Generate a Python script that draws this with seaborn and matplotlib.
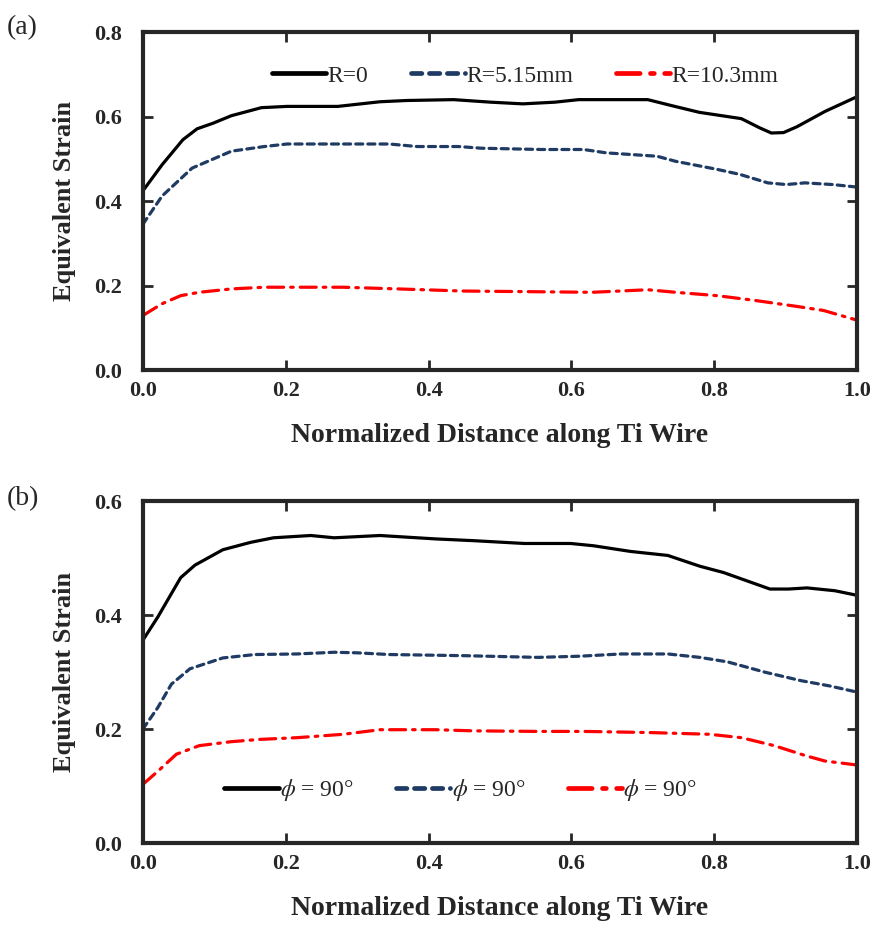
import numpy as np
import pandas as pd
import matplotlib
matplotlib.use("Agg")
import matplotlib.pyplot as plt
import seaborn as sns

# panel (a): strain along the wire for three radii
a_r0_x = [0.0, 0.027, 0.056, 0.076, 0.098, 0.124, 0.166, 0.202, 0.273, 0.332, 0.37, 0.435,
          0.487, 0.532, 0.577, 0.61, 0.707, 0.74, 0.779, 0.838, 0.864, 0.88, 0.897, 0.916,
          0.955, 1.0]
a_r0_y = [0.424, 0.486, 0.545, 0.571, 0.584, 0.602, 0.621, 0.624, 0.624, 0.635, 0.638, 0.64,
          0.634, 0.63, 0.634, 0.64, 0.64, 0.626, 0.61, 0.595, 0.573, 0.561, 0.562, 0.576,
          0.612, 0.647]
a_r5_x = [0.0, 0.027, 0.069, 0.124, 0.17, 0.202, 0.345, 0.384, 0.442, 0.474, 0.558, 0.617,
          0.649, 0.72, 0.746, 0.804, 0.836, 0.875, 0.901, 0.927, 0.966, 1.0]
a_r5_y = [0.345, 0.412, 0.478, 0.518, 0.529, 0.535, 0.535, 0.529, 0.529, 0.525, 0.522, 0.522,
          0.514, 0.506, 0.494, 0.475, 0.463, 0.443, 0.439, 0.443, 0.439, 0.433]
a_r10_x = [0.0, 0.027, 0.053, 0.079, 0.124, 0.17, 0.28, 0.357, 0.448, 0.629, 0.707, 0.746,
           0.804, 0.856, 0.914, 0.953, 1.0]
a_r10_y = [0.129, 0.157, 0.176, 0.184, 0.192, 0.196, 0.196, 0.192, 0.187, 0.184, 0.19, 0.184,
           0.176, 0.165, 0.151, 0.141, 0.118]

# panel (b)
b_s1_x = [0.0, 0.021, 0.053, 0.073, 0.112, 0.151, 0.183, 0.235, 0.268, 0.332, 0.41, 0.462,
          0.534, 0.599, 0.631, 0.683, 0.735, 0.78, 0.813, 0.878, 0.904, 0.93, 0.969, 1.0]
b_s1_y = [0.356, 0.397, 0.466, 0.488, 0.515, 0.528, 0.536, 0.54, 0.536, 0.54, 0.534, 0.531,
          0.526, 0.526, 0.522, 0.512, 0.505, 0.486, 0.475, 0.446, 0.446, 0.448, 0.443, 0.435]
b_s2_x = [0.0, 0.021, 0.04, 0.066, 0.112, 0.157, 0.216, 0.268, 0.3, 0.345, 0.449, 0.553,
          0.611, 0.67, 0.735, 0.78, 0.819, 0.871, 0.922, 0.961, 1.0]
b_s2_y = [0.2, 0.238, 0.279, 0.306, 0.325, 0.331, 0.332, 0.335, 0.334, 0.331, 0.329, 0.326,
          0.328, 0.332, 0.332, 0.326, 0.318, 0.3, 0.285, 0.276, 0.265]
b_s3_x = [0.0, 0.021, 0.047, 0.079, 0.124, 0.164, 0.216, 0.281, 0.332, 0.41, 0.462, 0.553,
          0.618, 0.709, 0.793, 0.838, 0.884, 0.929, 0.955, 1.0]
b_s3_y = [0.103, 0.126, 0.156, 0.171, 0.178, 0.182, 0.185, 0.191, 0.199, 0.199, 0.197, 0.196,
          0.196, 0.194, 0.191, 0.185, 0.171, 0.153, 0.144, 0.137]

a_labels = ["R=0", "R=5.15mm", "R=10.3mm"]
b_labels = [r"$\phi$ = 90°", r"$\phi$ = 90°", r"$\phi$ = 90°"]

colors = ["black", "#1F3B63", "#FF0000"]
styles = ["-", (0, (2.2, 1.6)), (0, (5, 2.2, 0.8, 2.2))]

sns.set_style("ticks")
plt.rcParams["font.family"] = ["Liberation Serif", "DejaVu Serif"]
plt.rcParams["mathtext.fontset"] = "stix"

fig = plt.figure(figsize=(8.71, 9.26), dpi=100)
ax_a = fig.add_axes([0.164, 0.6004, 0.820, 0.365])
ax_b = fig.add_axes([0.164, 0.0896, 0.820, 0.369])


def draw_panel(ax, series, labels, ymax, legend_x, legend_y):
    for (xs, ys), lab, c, ls in zip(series, labels, colors, styles):
        df = pd.DataFrame({"x": xs, "y": ys})
        sns.lineplot(data=df, x="x", y="y", ax=ax, color=c, linestyle=ls,
                     linewidth=2.3, label=lab, dash_capstyle="round")
    ax.set_xlim(0, 1.0)
    ax.set_ylim(0, ymax)
    ax.set_xticks(np.arange(0, 1.01, 0.2))
    ax.set_yticks(np.arange(0, ymax + 0.01, 0.2))
    ax.set_xticklabels([f"{v:.1f}" for v in np.arange(0, 1.01, 0.2)])
    ax.set_yticklabels([f"{v:.1f}" for v in np.arange(0, ymax + 0.01, 0.2)])
    ax.tick_params(direction="in", top=True, right=True, length=7, width=2,
                   labelsize=16, pad=15)
    ax.tick_params(axis="x", pad=8)
    for lab in ax.get_xticklabels() + ax.get_yticklabels():
        lab.set_fontweight("bold")
    for sp in ax.spines.values():
        sp.set_linewidth(3)
        sp.set_visible(True)
    ax.set_xlabel("Normalized Distance along Ti Wire", fontsize=20, fontweight="bold",
                  labelpad=16)
    ax.set_ylabel("Equivalent Strain", fontsize=19, fontweight="bold", labelpad=13)
    leg = ax.legend(loc="center", bbox_to_anchor=(legend_x, legend_y), ncol=3,
                    frameon=False, fontsize=17, handlelength=2.3, handletextpad=0.05,
                    columnspacing=1.8)
    for ln in leg.get_lines():
        ln.set_linewidth(3.4)


draw_panel(ax_a, [(a_r0_x, a_r0_y), (a_r5_x, a_r5_y), (a_r10_x, a_r10_y)],
           a_labels, 0.8, 0.535, 0.87)
draw_panel(ax_b, [(b_s1_x, b_s1_y), (b_s2_x, b_s2_y), (b_s3_x, b_s3_y)],
           b_labels, 0.6, 0.445, 0.155)

fig.text(0.008, 0.963, "(a)", fontsize=20)
fig.text(0.008, 0.455, "(b)", fontsize=20)

fig.savefig("out.png", dpi=100)
plt.close(fig)
